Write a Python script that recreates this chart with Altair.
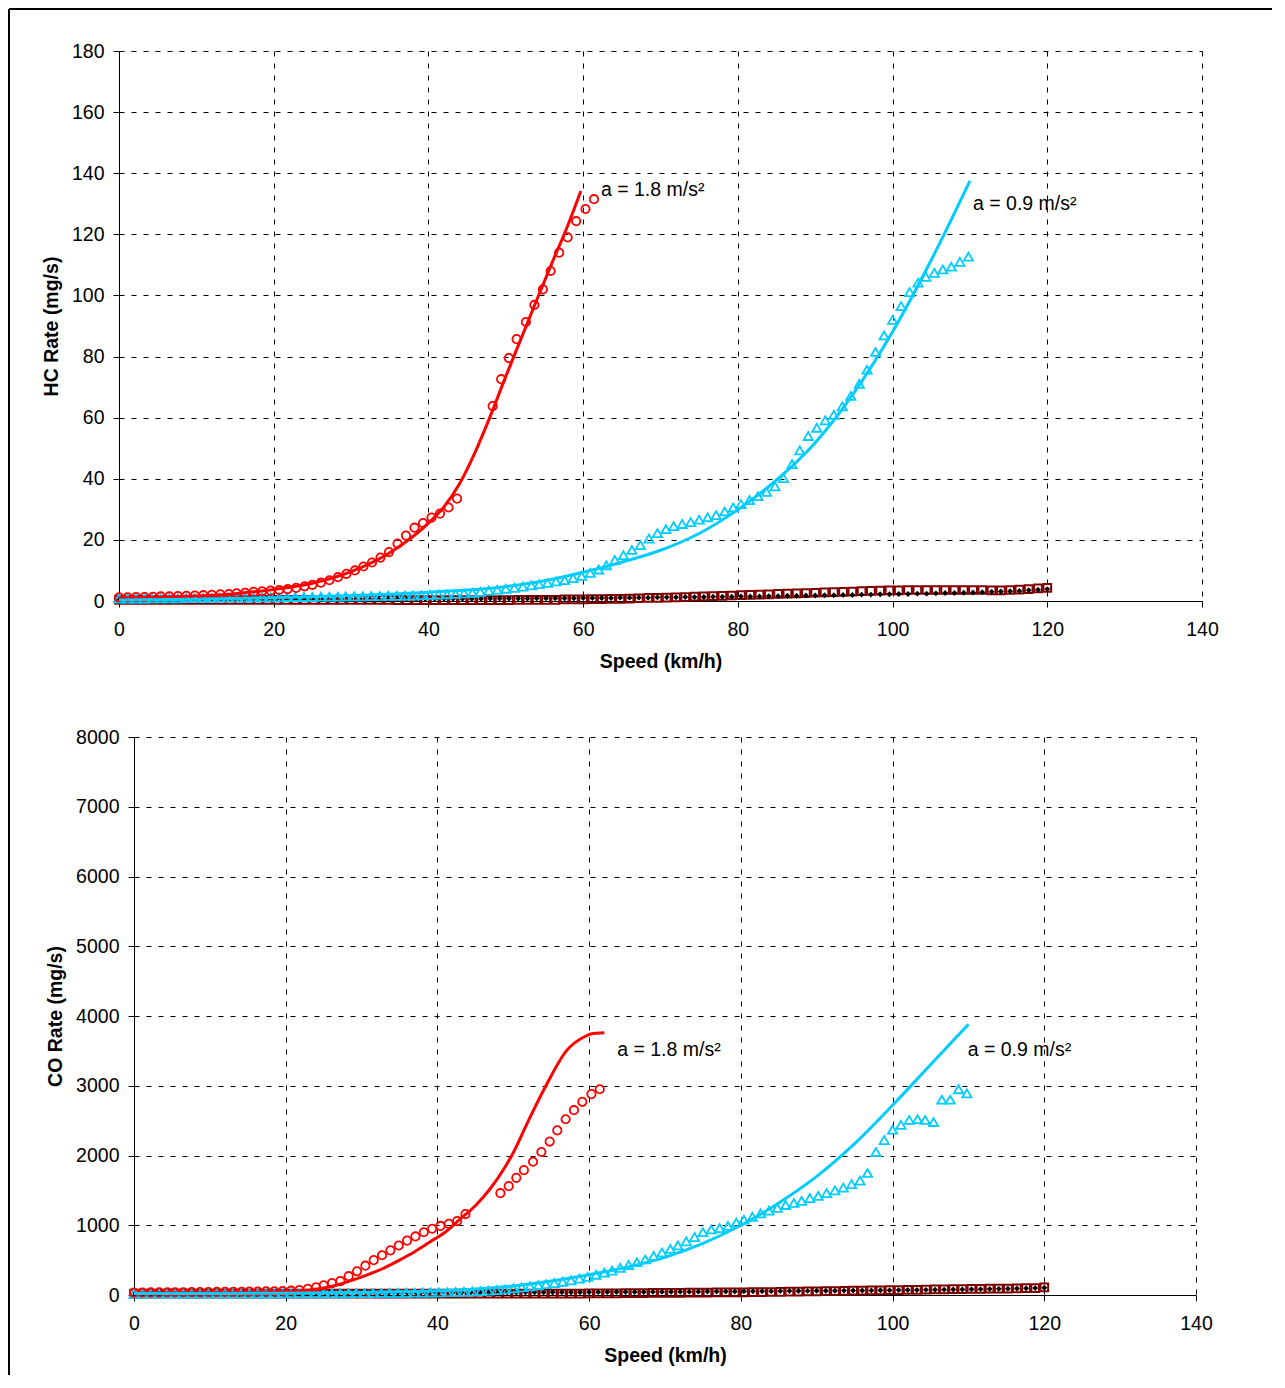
import altair as alt
import pandas as pd

FONT = "Liberation Sans"
RED = "#FF0000"
CYAN = "#00CCFF"
DARKRED = "#800000"

# ---------------- measured points, a = 1.8 m/s2 (red circles) ----------------
CIRC_X = [0.0, 1.1, 2.2, 3.3, 4.4, 5.4, 6.5, 7.6, 8.7, 9.8,
          10.9, 12.0, 13.1, 14.2, 15.2, 16.3, 17.4, 18.5, 19.6, 20.7,
          21.8, 22.9, 24.0, 25.0, 26.1, 27.2, 28.3, 29.4, 30.5, 31.6,
          32.7, 33.8, 34.9, 36.0, 37.1, 38.2, 39.3, 40.4, 41.5, 42.6,
          43.7,
          48.3, 49.4, 50.4, 51.4, 52.6, 53.7, 54.8, 55.8, 56.9, 58.0, 59.1, 60.3, 61.4]
CIRC_HC = [1.2, 1.2, 1.3, 1.3, 1.4, 1.5, 1.5, 1.6, 1.7, 1.8,
           1.9, 2.0, 2.2, 2.3, 2.5, 2.7, 3.0, 3.2, 3.4, 3.6,
           3.9, 4.3, 4.8, 5.3, 6.0, 6.8, 7.8, 8.9, 10.0, 11.3,
           12.6, 14.2, 16.0, 18.8, 21.4, 24.0, 25.5, 27.3, 28.6, 30.6,
           33.5,
           63.8, 72.6, 79.5, 85.7, 91.3, 96.9, 102.0, 108.0, 114.0, 119.0, 124.3, 128.3, 131.5]
CIRC_CO = [35, 36, 37, 38, 39, 40, 40, 41, 42, 43,
           44, 45, 46, 47, 48, 50, 52, 54, 57, 62,
           72, 88, 110, 140, 170, 200, 270, 340, 420, 500,
           570, 640, 710, 780, 840, 900, 950, 990, 1020, 1060,
           1160,
           1460, 1560, 1680, 1790, 1910, 2050, 2200, 2360, 2520, 2650, 2770, 2880, 2950]

# ---------------- measured points, a = 0.9 m/s2 (cyan triangles) ----------------
TRI_X = [0.0, 1.1, 2.2, 3.3, 4.3, 5.4, 6.5, 7.6, 8.7, 9.8,
         10.9, 12.0, 13.0, 14.1, 15.2, 16.3, 17.4, 18.5, 19.6, 20.7,
         21.7, 22.8, 23.9, 25.0, 26.1, 27.2, 28.3, 29.3, 30.4, 31.5,
         32.6, 33.7, 34.8, 35.9, 37.0, 38.0, 39.1, 40.2, 41.3, 42.4,
         43.5, 44.6, 45.7, 46.7, 47.8, 48.9, 50.0, 51.1, 52.2, 53.3,
         54.3, 55.4, 56.5, 57.6, 58.7, 59.8, 60.9, 62.0, 63.0, 64.1,
         65.2, 66.3, 67.4, 68.5, 69.6, 70.7, 71.7, 72.8, 73.9, 75.0,
         76.1, 77.2, 78.3, 79.4, 80.4, 81.5, 82.6, 83.7, 84.8, 85.9,
         87.0, 88.0, 89.1, 90.2, 91.3, 92.4, 93.5, 94.6, 95.7, 96.7,
         97.8, 98.9, 100.0, 101.1, 102.2, 103.3, 104.3, 105.4, 106.5, 107.6,
         108.7, 109.8]
TRI_HC = [0.8, 0.8, 0.8, 0.8, 0.9, 0.9, 0.9, 0.9, 1.0, 1.0,
          1.0, 1.0, 1.1, 1.1, 1.1, 1.1, 1.2, 1.2, 1.2, 1.2,
          1.3, 1.3, 1.3, 1.3, 1.4, 1.4, 1.4, 1.5, 1.5, 1.5,
          1.6, 1.6, 1.7, 1.7, 1.8, 1.8, 1.9, 2.0, 2.1, 2.2,
          2.3, 2.5, 2.7, 3.0, 3.4, 3.7, 4.0, 4.3, 4.7, 5.1,
          5.5, 5.9, 6.4, 6.8, 7.5, 8.2, 9.2, 10.3, 11.7, 13.4,
          15.0, 16.7, 18.3, 20.4, 22.2, 23.5, 24.5, 25.2, 25.8, 26.6,
          27.4, 28.1, 29.3, 30.6, 31.7, 33.0, 34.3, 35.7, 37.5, 40.2,
          44.8, 49.3, 54.0, 56.7, 59.1, 60.9, 63.7, 67.1, 71.1, 75.7,
          81.5, 86.9, 92.0, 96.5, 101.1, 104.2, 106.1, 107.4, 108.5, 109.4,
          111.0, 112.7]
TRI_CO = [20, 20, 20, 20, 20, 20, 20, 20, 20, 20,
          20, 20, 20, 20, 21, 21, 21, 21, 22, 22,
          22, 23, 23, 24, 24, 25, 25, 26, 27, 28,
          29, 30, 31, 32, 33, 34, 36, 38, 40, 43,
          46, 50, 55, 62, 70, 80, 95, 110, 125, 140,
          155, 170, 190, 210, 235, 260, 290, 320, 350, 390,
          430, 470, 510, 560, 610, 660, 710, 770, 830, 900,
          940, 960, 990, 1040, 1080, 1120, 1170, 1210, 1250, 1290,
          1320, 1350, 1390, 1420, 1460, 1500, 1540, 1590, 1640, 1750,
          2050, 2220, 2370, 2440, 2510, 2520, 2510, 2480, 2800, 2800,
          2950, 2890]

# ---------------- low-rate series (black diamonds, dark-red squares) ----------------
DARK_X = [0.0, 1.2, 2.4, 3.6, 4.8, 6.0, 7.2, 8.4, 9.6, 10.8,
          12.0, 13.2, 14.4, 15.6, 16.8, 18.0, 19.2, 20.4, 21.6, 22.8,
          24.0, 25.2, 26.4, 27.6, 28.8, 30.0, 31.2, 32.4, 33.6, 34.8,
          36.0, 37.2, 38.4, 39.6, 40.8, 42.0, 43.2, 44.4, 45.6, 46.8,
          48.0, 49.2, 50.4, 51.6, 52.8, 54.0, 55.2, 56.4, 57.6, 58.8,
          60.0, 61.2, 62.4, 63.6, 64.8, 66.0, 67.2, 68.4, 69.6, 70.8,
          72.0, 73.2, 74.4, 75.6, 76.8, 78.0, 79.2, 80.4, 81.6, 82.8,
          84.0, 85.2, 86.4, 87.6, 88.8, 90.0, 91.2, 92.4, 93.6, 94.8,
          96.0, 97.2, 98.4, 99.6, 100.8, 102.0, 103.2, 104.4, 105.6, 106.8,
          108.0, 109.2, 110.4, 111.6, 112.8, 114.0, 115.2, 116.4, 117.6, 118.8,
          120.0]
DIAM_HC = [0.6, 0.6, 0.6, 0.6, 0.6, 0.6, 0.6, 0.6, 0.6, 0.6,
           0.6, 0.6, 0.6, 0.6, 0.6, 0.6, 0.6, 0.6, 0.6, 0.6,
           0.6, 0.6, 0.6, 0.6, 0.6, 0.6, 0.6, 0.6, 0.6, 0.6,
           0.6, 0.6, 0.6, 0.7, 0.7, 0.7, 0.7, 0.7, 0.7, 0.7,
           0.8, 0.8, 0.8, 0.8, 0.8, 0.9, 0.9, 0.9, 0.9, 0.9,
           1.0, 1.0, 1.0, 1.0, 1.1, 1.1, 1.1, 1.1, 1.2, 1.2,
           1.2, 1.3, 1.3, 1.3, 1.4, 1.4, 1.4, 1.5, 1.5, 1.5,
           1.6, 1.6, 1.7, 1.7, 1.8, 1.8, 1.9, 1.9, 2.0, 2.0,
           2.1, 2.1, 2.2, 2.2, 2.3, 2.3, 2.4, 2.4, 2.5, 2.6,
           2.6, 2.7, 2.8, 2.9, 3.0, 3.1, 3.2, 3.3, 3.5, 3.7,
           3.9]
SQ_HC = [0.4, 0.4, 0.4, 0.4, 0.4, 0.4, 0.4, 0.4, 0.4, 0.4,
         0.4, 0.4, 0.4, 0.4, 0.4, 0.4, 0.4, 0.4, 0.4, 0.4,
         0.4, 0.4, 0.4, 0.4, 0.4, 0.4, 0.4, 0.4, 0.4, 0.4,
         0.3, 0.3, 0.3, 0.3, 0.3, 0.3, 0.3, 0.3, 0.3, 0.3,
         0.3, 0.3, 0.3, 0.4, 0.4, 0.4, 0.4, 0.4, 0.5, 0.5,
         0.5, 0.6, 0.6, 0.7, 0.7, 0.8, 0.9, 1.0, 1.0, 1.1,
         1.2, 1.3, 1.4, 1.5, 1.6, 1.7, 1.8, 1.9, 2.0, 2.1,
         2.2, 2.3, 2.4, 2.5, 2.6, 2.7, 2.8, 2.9, 3.0, 3.1,
         3.2, 3.3, 3.4, 3.5, 3.5, 3.6, 3.6, 3.6, 3.6, 3.6,
         3.6, 3.6, 3.6, 3.6, 3.5, 3.5, 3.6, 3.7, 3.9, 4.1,
         4.3]
DIAM_CO = [30, 30, 30, 30, 30, 30, 30, 30, 30, 30,
           30, 30, 30, 30, 30, 30, 30, 30, 30, 30,
           30, 31, 31, 31, 31, 32, 32, 32, 32, 33,
           33, 33, 34, 34, 34, 35, 35, 35, 36, 36,
           36, 37, 37, 38, 38, 38, 39, 39, 40, 40,
           41, 41, 42, 42, 43, 43, 44, 45, 45, 46,
           47, 47, 48, 49, 50, 50, 51, 52, 53, 54,
           55, 56, 57, 58, 59, 60, 61, 62, 63, 64,
           65, 66, 67, 68, 70, 71, 72, 74, 75, 77,
           78, 80, 82, 84, 86, 88, 90, 93, 96, 99,
           103]
SQ_CO = [20, 20, 20, 20, 20, 20, 20, 20, 20, 20,
         20, 20, 20, 20, 20, 20, 20, 20, 20, 20,
         20, 20, 20, 20, 20, 20, 20, 20, 20, 20,
         20, 20, 20, 20, 20, 20, 20, 20, 20, 20,
         20, 20, 20, 20, 20, 21, 21, 21, 21, 21,
         22, 23, 24, 25, 26, 27, 28, 29, 30, 31,
         32, 33, 34, 35, 36, 37, 38, 39, 40, 41,
         43, 45, 47, 49, 51, 53, 55, 57, 59, 61,
         63, 65, 67, 69, 71, 73, 75, 77, 79, 81,
         83, 85, 87, 89, 90, 91, 92, 94, 97, 100,
         110]

# ---------------- model curves ----------------
L18_HC_X = [0, 5, 10, 15, 20, 25, 30, 35, 40, 42, 44, 46, 48, 50, 52, 54, 56, 58, 59.7]
L18_HC_Y = [1.0, 1.2, 1.6, 2.4, 3.8, 5.8, 9.6, 15.8, 25.5, 30.8, 38.3, 48.5, 60.5, 73.5, 86.0, 98.5, 110.8, 122.8, 134.2]
L09_HC_X = [0, 10, 20, 30, 40, 50, 55, 60, 65, 70, 75, 80, 85, 90, 95, 100, 105, 110]
L09_HC_Y = [0.3, 0.6, 1.1, 1.8, 2.9, 4.7, 6.6, 9.4, 12.7, 16.6, 22.1, 29.9, 39.6, 51.8, 68.1, 88.1, 111.6, 137.5]
L18_CO_X = [0, 10, 20, 23, 25, 27, 29, 31, 33, 35, 37, 39, 41, 43, 45, 47, 49, 50, 52, 54.3, 57, 59.5, 60.5, 62]
L18_CO_Y = [30, 32, 45, 70, 100, 150, 220, 300, 390, 500, 620, 760, 900, 1090, 1280, 1530, 1850, 2040, 2500, 3000, 3500, 3710, 3750, 3760]
L09_CO_X = [0, 20, 30, 40, 45, 50, 55, 60, 65, 70, 75, 80, 85, 90, 95, 100, 105, 110]
L09_CO_Y = [20, 25, 35, 60, 85, 130, 200, 290, 400, 540, 740, 1000, 1320, 1700, 2170, 2720, 3300, 3880]

# ---------------- annotations ----------------
ANN_TEXT = ["a = 1.8 m/s²", "a = 0.9 m/s²"]
ANN_HC_X = [62.3, 110.4]
ANN_HC_Y = [134.5, 129.8]
ANN_CO_X = [63.7, 109.9]
ANN_CO_Y = [3515, 3515]

X_TICKS = [0, 20, 40, 60, 80, 100, 120, 140]
HC_TICKS = [0, 20, 40, 60, 80, 100, 120, 140, 160, 180]
CO_TICKS = [0, 1000, 2000, 3000, 4000, 5000, 6000, 7000, 8000]


def axis(values, title, label_pad, title_pad, offset=0):
    return alt.Axis(values=values, title=title, format="d", grid=True, gridDash=[5, 7],
                    gridColor="#000000", gridWidth=1, domainColor="#000000", domainWidth=1,
                    tickColor="#000000", tickSize=6, tickWidth=1, labelFont=FONT, labelFontSize=19.5,
                    labelColor="#000000", titleFont=FONT, titleFontSize=19.5, titleFontWeight="bold",
                    titleColor="#000000", labelPadding=label_pad, titlePadding=title_pad,
                    labelOverlap=False, labelFlush=False, offset=offset)


def df(xs, ys):
    return pd.DataFrame({"x": xs, "y": ys})


def panel(w, h, x_range, y_offset, ymax, yticks, ytitle, circ, tri, diam, sq,
          l18x, l18y, l09x, l09y, annx, anny, top_off, bot_off, frame_top):
    X = alt.X("x:Q", scale=alt.Scale(domain=[0, 140], range=x_range, nice=False),
              axis=axis(X_TICKS, "Speed (km/h)", 13, 14))
    Y = alt.Y("y:Q", scale=alt.Scale(domain=[0, ymax], nice=False),
              axis=axis(yticks, ytitle, 9, 10, y_offset))
    sq_layer = alt.Chart(df(DARK_X, sq)).mark_point(shape="square", filled=False, color=DARKRED,
                                                    size=60, strokeWidth=2, opacity=1).encode(x=X, y=Y)
    diam_layer = alt.Chart(df(DARK_X, diam)).mark_point(shape="diamond", filled=True, color="#000000",
                                                        size=35, opacity=1).encode(x=X, y=Y)
    tri_layer = alt.Chart(df(TRI_X, tri)).mark_point(shape="triangle-up", filled=False, color=CYAN,
                                                     size=85, strokeWidth=1.8, opacity=1).encode(x=X, y=Y)
    circ_layer = alt.Chart(df(CIRC_X, circ)).mark_point(shape="circle", filled=False, color=RED,
                                                        size=70, strokeWidth=1.8, opacity=1).encode(x=X, y=Y)
    l18 = alt.Chart(df(l18x, l18y)).mark_line(color=RED, strokeWidth=3, interpolate="monotone").encode(x=X, y=Y)
    l09 = alt.Chart(df(l09x, l09y)).mark_line(color=CYAN, strokeWidth=3, interpolate="monotone").encode(x=X, y=Y)
    ann = alt.Chart(pd.DataFrame({"x": annx, "y": anny, "t": ANN_TEXT})).mark_text(
        align="left", baseline="middle", font=FONT, fontSize=19.5, color="#000000").encode(x=X, y=Y, text="t:N")
    one = pd.DataFrame({"d": [0]})
    vrule = alt.Chart(one).mark_rule(color="#000000", strokeWidth=2).encode(
        x=alt.value(-110), y=alt.value(top_off), y2=alt.value(h + bot_off))
    layers = [sq_layer, diam_layer, tri_layer, circ_layer, l18, l09, ann, vrule]
    if frame_top:
        hrule = alt.Chart(one).mark_rule(color="#000000", strokeWidth=2).encode(
            x=alt.value(-110), x2=alt.value(w + 70), y=alt.value(top_off))
        layers.append(hrule)
    return alt.layer(*layers).properties(width=w, height=h)


top = panel(1083, 550, [0, 1083], 0, 180, HC_TICKS, "HC Rate (mg/s)", CIRC_HC, TRI_HC, DIAM_HC, SQ_HC,
            L18_HC_X, L18_HC_Y, L09_HC_X, L09_HC_Y, ANN_HC_X, ANN_HC_Y, -42, 80, True)
bottom = panel(1077, 558, [15, 1077], -15, 8000, CO_TICKS, "CO Rate (mg/s)", CIRC_CO, TRI_CO, DIAM_CO, SQ_CO,
               L18_CO_X, L18_CO_Y, L09_CO_X, L09_CO_Y, ANN_CO_X, ANN_CO_Y, -62, 80, False)

chart = alt.vconcat(top, bottom, spacing=-8).properties(padding=0).configure_view(stroke=None)

chart.save("out.html", embed_options={"renderer": "svg", "actions": False})
